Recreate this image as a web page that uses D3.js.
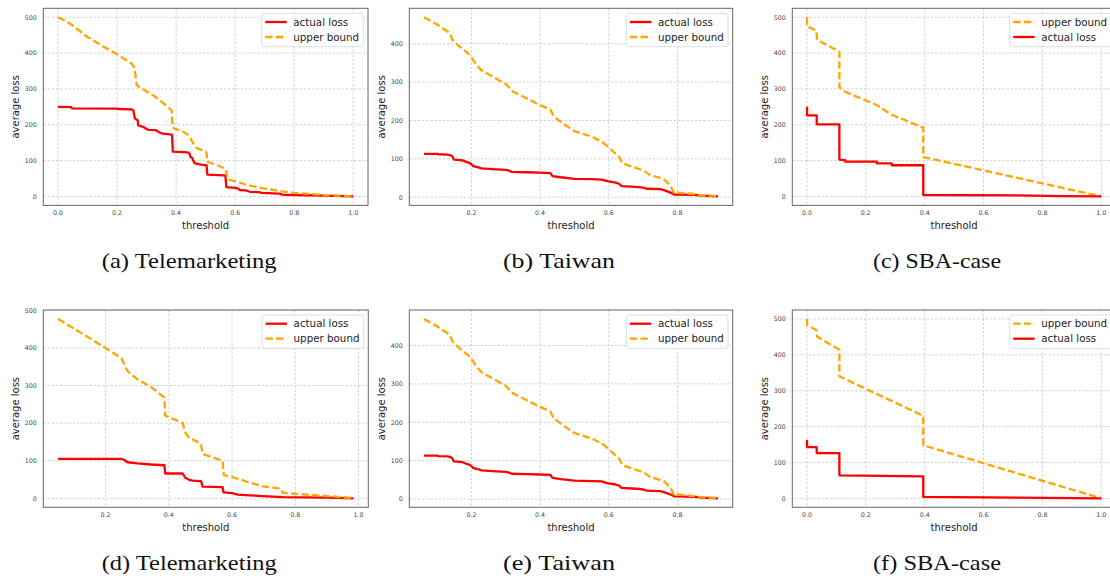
<!DOCTYPE html>
<html><head><meta charset="utf-8">
<script src="https://cdn.jsdelivr.net/npm/d3@7"></script>
<style>
html,body{margin:0;padding:0;background:#fff;}
svg{display:block;}
</style></head>
<body>
<svg id="chart" width="1110" height="578"></svg>
<script>
// ---------------- data ----------------
const seriesNames = ["actual loss", "upper bound"];
const xTickValues = [0, 0.2, 0.4, 0.6, 0.8, 1.0];
const yTickValues = [0, 100, 200, 300, 400, 500];
const captions = ["(a) Telemarketing", "(b) Taiwan", "(c) SBA-case", "(d) Telemarketing", "(e) Taiwan", "(f) SBA-case"];

// (a) Telemarketing
const teleA_actual_x = [0, 0.045, 0.047, 0.2, 0.205, 0.25, 0.255, 0.26, 0.265, 0.27, 0.272, 0.285, 0.29, 0.3, 0.305, 0.33, 0.335, 0.345, 0.355, 0.38, 0.386, 0.389, 0.44, 0.445, 0.449, 0.455, 0.458, 0.462, 0.475, 0.49, 0.503, 0.506, 0.56, 0.567, 0.57, 0.6, 0.61, 0.616, 0.64, 0.65, 0.68, 0.69, 0.75, 0.76, 0.8, 0.9, 1.0];
const teleA_actual_y = [250, 249, 246, 245, 244, 243, 240, 218, 215, 212, 198, 195, 193, 188, 186, 185, 183, 178, 175, 173, 172, 125, 123, 120, 110, 107, 100, 93, 90, 88, 87, 61, 59, 58, 26, 24, 22, 18, 16, 13, 12, 10, 8, 5, 4, 2, 0];
const teleA_upper_x = [0, 0.03, 0.047, 0.1, 0.15, 0.2, 0.25, 0.258, 0.262, 0.266, 0.275, 0.3, 0.33, 0.36, 0.385, 0.388, 0.392, 0.42, 0.44, 0.45, 0.458, 0.47, 0.5, 0.503, 0.505, 0.53, 0.566, 0.57, 0.574, 0.6, 0.65, 0.7, 0.76, 0.8, 0.85, 0.9, 0.95, 1.0];
const teleA_upper_y = [500, 488, 478, 445, 420, 397, 370, 360, 340, 312, 305, 293, 278, 258, 240, 195, 190, 182, 172, 160, 148, 135, 125, 122, 97, 90, 78, 70, 48, 42, 30, 22, 14, 10, 7, 4, 2, 0];

// (b)/(e) Taiwan
const taiwan_actual_x = [0.062, 0.1, 0.105, 0.13, 0.14, 0.145, 0.149, 0.175, 0.185, 0.195, 0.2, 0.205, 0.215, 0.23, 0.26, 0.3, 0.31, 0.318, 0.36, 0.4, 0.43, 0.436, 0.46, 0.5, 0.55, 0.58, 0.59, 0.6, 0.62, 0.63, 0.637, 0.68, 0.7, 0.71, 0.75, 0.765, 0.785, 0.79, 0.85, 0.87, 0.918];
const taiwan_actual_y = [113, 113, 112, 111, 109, 106, 98, 96, 92, 89, 86, 81, 79, 75, 73, 71, 69, 66, 65, 64, 63, 55, 52, 48, 47, 46, 43, 41, 38, 35, 29, 27, 25, 22, 21, 17, 10, 7, 6, 4, 2];
const taiwan_upper_x = [0.062, 0.1, 0.134, 0.14, 0.145, 0.16, 0.19, 0.2, 0.215, 0.23, 0.26, 0.3, 0.32, 0.36, 0.4, 0.43, 0.44, 0.47, 0.5, 0.55, 0.58, 0.6, 0.63, 0.64, 0.7, 0.72, 0.76, 0.78, 0.79, 0.8, 0.85, 0.87, 0.918];
const taiwan_upper_y = [469, 450, 430, 422, 410, 397, 375, 365, 345, 330, 315, 295, 276, 258, 240, 228, 210, 190, 172, 158, 145, 130, 105, 88, 70, 58, 47, 30, 10, 12, 8, 5, 3];

// (c) SBA-case
const sbaC_actual_x = [0, 0, 0.033, 0.033, 0.11, 0.11, 0.13, 0.13, 0.237, 0.237, 0.288, 0.288, 0.395, 0.395, 0.712, 0.86, 1.0];
const sbaC_actual_y = [250, 226, 226, 201, 201, 103, 101, 97, 97, 92, 92, 87, 87, 4, 3, 1, 0];
const sbaC_upper_x = [0, 0, 0.032, 0.034, 0.11, 0.11, 0.13, 0.237, 0.288, 0.395, 0.395, 1.0];
const sbaC_upper_y = [500, 475, 463, 437, 404, 305, 292, 255, 228, 192, 110, 0];

// (d) Telemarketing
const teleD_actual_x = [0.05, 0.25, 0.26, 0.27, 0.301, 0.344, 0.386, 0.389, 0.444, 0.452, 0.463, 0.475, 0.502, 0.507, 0.57, 0.573, 0.6, 0.618, 0.655, 0.697, 0.76, 0.9, 0.984];
const teleD_actual_y = [105, 105, 102, 96, 93, 90, 88, 66, 66, 55, 50, 47, 46, 31, 30, 16, 14, 10, 8, 6, 3, 2, 0];
const teleD_upper_x = [0.05, 0.2, 0.25, 0.26, 0.27, 0.3, 0.344, 0.386, 0.389, 0.444, 0.452, 0.463, 0.502, 0.507, 0.57, 0.574, 0.6, 0.655, 0.697, 0.755, 0.76, 0.8, 0.9, 0.984];
const teleD_upper_y = [477, 400, 373, 355, 338, 317, 296, 268, 220, 200, 175, 162, 145, 118, 100, 62, 57, 42, 32, 25, 15, 12, 6, 1];

// (f) SBA-case
const sbaF_actual_x = [0, 0, 0.033, 0.033, 0.11, 0.11, 0.395, 0.395, 1.0];
const sbaF_actual_y = [163, 143, 143, 126, 126, 64, 61, 4, 0];
const sbaF_upper_x = [0, 0, 0.032, 0.034, 0.11, 0.11, 0.395, 0.395, 1.0];
const sbaF_upper_y = [500, 483, 469, 451, 414, 340, 230, 148, 0];

// ---------------- layout ----------------
const zip = (xs, ys) => xs.map((x, i) => ({x, y: ys[i]}));
const colors = {"actual loss": "#ff0000", "upper bound": "#ffa500"};

const panels = [
  {frame: [43.3, 8.3, 368, 205.4], capX: 189.2, capY: 268.3, cap: captions[0],
   actual: zip(teleA_actual_x, teleA_actual_y), upper: zip(teleA_upper_x, teleA_upper_y), upperFirst: false},
  {frame: [409.3, 8.3, 732.7, 205.4], capX: 559, capY: 268.3, cap: captions[1],
   actual: zip(taiwan_actual_x, taiwan_actual_y), upper: zip(taiwan_upper_x, taiwan_upper_y), upperFirst: false},
  {frame: [792.3, 8.3, 1116, 205.4], capX: 937, capY: 268.3, cap: captions[2],
   actual: zip(sbaC_actual_x, sbaC_actual_y), upper: zip(sbaC_upper_x, sbaC_upper_y), upperFirst: true},
  {frame: [43.3, 310, 368.3, 507.3], capX: 189.2, capY: 570, cap: captions[3],
   actual: zip(teleD_actual_x, teleD_actual_y), upper: zip(teleD_upper_x, teleD_upper_y), upperFirst: false},
  {frame: [409.3, 310, 732.7, 507.3], capX: 559, capY: 570, cap: captions[4],
   actual: zip(taiwan_actual_x, taiwan_actual_y), upper: zip(taiwan_upper_x, taiwan_upper_y), upperFirst: false},
  {frame: [792.3, 310, 1116, 507.3], capX: 937, capY: 570, cap: captions[5],
   actual: zip(sbaF_actual_x, sbaF_actual_y), upper: zip(sbaF_upper_x, sbaF_upper_y), upperFirst: true},
];
const capWidths = {"(a) Telemarketing": 175, "(d) Telemarketing": 175, "(b) Taiwan": 112, "(e) Taiwan": 112, "(c) SBA-case": 128, "(f) SBA-case": 128};

const svg = d3.select("#chart");
const fmt = d3.format(".1f");

function pad(ext) { const m = (ext[1] - ext[0]) * 0.05; return [ext[0] - m, ext[1] + m]; }

panels.forEach((p, pi) => {
  const [x0, y0, x1, y1] = p.frame;
  const all = p.actual.concat(p.upper);
  const x = d3.scaleLinear().domain(pad(d3.extent(all, d => d.x))).range([x0, x1]);
  const y = d3.scaleLinear().domain(pad(d3.extent(all, d => d.y))).range([y1, y0]);
  const g = svg.append("g");

  const clipId = "clip" + pi;
  svg.append("clipPath").attr("id", clipId).append("rect")
    .attr("x", x0).attr("y", y0).attr("width", x1 - x0).attr("height", y1 - y0);

  const xt = xTickValues.filter(v => v >= x.domain()[0] && v <= x.domain()[1]);
  const yt = yTickValues.filter(v => v >= y.domain()[0] && v <= y.domain()[1]);

  // grid
  g.append("g").selectAll("line.gx").data(xt).join("line")
    .attr("x1", d => x(d)).attr("x2", d => x(d)).attr("y1", y0).attr("y2", y1)
    .attr("stroke", "#c4c4c4").attr("stroke-width", 0.8).attr("stroke-dasharray", "2.4,1.8");
  g.append("g").selectAll("line.gy").data(yt).join("line")
    .attr("y1", d => y(d)).attr("y2", d => y(d)).attr("x1", x0).attr("x2", x1)
    .attr("stroke", "#c4c4c4").attr("stroke-width", 0.8).attr("stroke-dasharray", "2.4,1.8");

  // lines
  const line = d3.line().x(d => x(d.x)).y(d => y(d.y));
  const drawActual = () => g.append("path").datum(p.actual).attr("clip-path", `url(#${clipId})`)
    .attr("d", line).attr("fill", "none").attr("stroke", colors["actual loss"])
    .attr("stroke-width", 2.3).attr("stroke-linejoin", "round");
  const drawUpper = () => g.append("path").datum(p.upper).attr("clip-path", `url(#${clipId})`)
    .attr("d", line).attr("fill", "none").attr("stroke", colors["upper bound"])
    .attr("stroke-width", 2.3).attr("stroke-dasharray", "7.4,3.2");
  if (p.upperFirst) { drawUpper(); drawActual(); } else { drawActual(); drawUpper(); }

  // frame
  g.append("rect").attr("x", x0).attr("y", y0).attr("width", x1 - x0).attr("height", y1 - y0)
    .attr("fill", "none").attr("stroke", "#666").attr("stroke-width", 1);

  // tick labels
  g.append("g").selectAll("text").data(xt).join("text")
    .attr("x", d => x(d)).attr("y", y1 + 9.6).attr("text-anchor", "middle")
    .attr("font-family", "DejaVu Sans").attr("font-size", 6.3).attr("fill", "#444")
    .text(d => fmt(d));
  g.append("g").selectAll("text").data(yt).join("text")
    .attr("x", x0 - 6.6).attr("y", d => y(d) + 2.3).attr("text-anchor", "end")
    .attr("font-family", "DejaVu Sans").attr("font-size", 6.3).attr("fill", "#444")
    .text(d => d);

  // axis labels
  g.append("text").attr("x", (x0 + Math.min(x1, 1110 + 6)) / 2).attr("y", y1 + 23.3)
    .attr("text-anchor", "middle").attr("font-family", "DejaVu Sans").attr("font-size", 10)
    .attr("fill", "#222").text("threshold");
  g.append("text").attr("transform", `translate(${x0 - 24.6},${(y0 + y1) / 2}) rotate(-90)`)
    .attr("text-anchor", "middle").attr("font-family", "DejaVu Sans").attr("font-size", 10)
    .attr("fill", "#222").text("average loss");

  // legend
  const order = p.upperFirst ? ["upper bound", "actual loss"] : ["actual loss", "upper bound"];
  const lw = 101.6, lh = 33.4;
  const lx = x1 - 4.7 - lw, ly = y0 + 5;
  const lg = g.append("g");
  lg.append("rect").attr("x", lx).attr("y", ly).attr("width", lw).attr("height", lh)
    .attr("rx", 2.5).attr("fill", "#fff").attr("fill-opacity", 0.85)
    .attr("stroke", "#d6d6d6").attr("stroke-width", 0.8);
  order.forEach((name, i) => {
    const cy = ly + 8.7 + i * 15;
    lg.append("line").attr("x1", lx + 3.5).attr("x2", lx + 25).attr("y1", cy).attr("y2", cy)
      .attr("stroke", colors[name]).attr("stroke-width", 2.3)
      .attr("stroke-dasharray", name === "upper bound" ? "7.4,3.2" : null);
    lg.append("text").attr("x", lx + 31.6).attr("y", cy + 3.7)
      .attr("font-family", "DejaVu Sans").attr("font-size", 10.3).attr("fill", "#222").text(name);
  });

  // caption
  svg.append("text").attr("x", p.capX).attr("y", p.capY).attr("text-anchor", "middle")
    .attr("font-family", "Liberation Serif").attr("font-size", 22).attr("fill", "#111")
    .attr("textLength", capWidths[p.cap]).attr("lengthAdjust", "spacingAndGlyphs")
    .text(p.cap);
});
</script>
</body></html>
